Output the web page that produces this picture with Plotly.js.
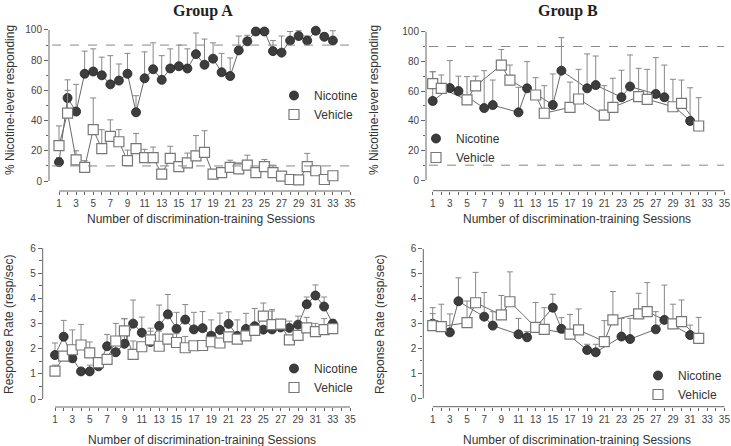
<!DOCTYPE html>
<html><head><meta charset="utf-8">
<script src="https://cdn.plot.ly/plotly-3.0.1.min.js"></script>
<style>html,body{margin:0;padding:0;background:#fff}#chart{width:731px;height:446px}</style>
</head><body><div id="chart"></div>
<script>
// ---------- DATA ----------
const sessionsA = [1,2,3,4,5,6,7,8,9,10,11,12,13,14,15,16,17,18,19,20,21,22,23,24,25,26,27,28,29,30,31,32,33];
// Group A: % nicotine-lever responding
const nicA_pct     = [12.5,55,46,71,72.5,70,64,66.5,71,45.5,68,74,67,74.5,76,74.5,84,77,81,72,69.5,86.5,92.5,99,99,86,85,93,96,93,99.5,95.5,93];
const nicA_pctErr  = [3,12,18,15,15,12,19,11,13.5,11,17.5,17.5,16,13,14,13,14,17,10.5,12.5,12,9.5,4,0,0,7,11,6,3.5,3,0,2.5,6.5];
const vehA_pct     = [23.5,45,14,9,34,21.5,29.5,26,13.5,21.5,15.5,15.5,4.6,15,9.5,12,16.6,19,4.6,5.5,9,8,10.5,5.5,9.5,5.5,3.3,1,0.7,9.5,6.8,1,3.5];
const vehA_pctErr  = [13,15,6,4.5,21,12.5,11,8,7,10,5.5,7,0,8,3.3,6.5,13.5,14.3,0,0,4.8,4,6.6,0,4.8,5,0,0,0,8.8,3.2,0,2.2];
// Group A: response rate
const nicA_rate    = [1.75,2.48,1.62,1.1,1.1,1.3,2.1,1.86,2.2,3.0,2.64,2.27,2.91,3.37,2.79,3.16,2.77,2.82,2.52,2.75,2.99,2.51,2.79,2.9,2.76,2.77,2.85,2.83,2.96,3.77,4.12,3.68,3.0];
const nicA_rateErr = [0.48,0.65,0,0,0.25,0,0.47,0.3,1.0,0.94,0.62,0.55,0.83,0.79,0.66,0.6,0.68,0.66,0.63,0.67,0.48,0.64,0.62,0.7,0,0.73,0,0.27,0.34,0.29,0.42,0.38,0.17];
const vehA_rate    = [1.11,1.71,1.96,2.15,1.84,1.45,1.58,2.31,2.71,1.78,2.08,2.35,2.1,2.38,2.25,2.04,2.12,2.13,2.28,2.23,2.47,2.38,2.51,2.73,3.3,2.96,2.98,2.35,2.53,2.83,2.68,2.76,2.8];
const vehA_rateErr = [0.24,0,0.79,0.82,0.43,0,0,0.7,0.48,0.53,0,0.35,0.6,0,0.35,0.45,0,0,0,0,0,0,0,0,0.52,0.6,0.14,0,0,0.42,0.33,0.44,0];

// Group B
const nicB_sessions = [1,3,4,7,8,11,12,15,16,19,20,23,24,27,28,31];
const vehB_sessions = [1,2,5,6,9,10,13,14,17,18,21,22,25,26,29,30,32];
const nicB_pct     = [53.3,62,60,48.5,50.5,45.6,61.8,50.6,73.7,61.8,64,55.8,63,58,55.8,39.8];
const nicB_pctErr  = [19.7,18.5,10,25.2,16.9,16.9,18,20.9,22.3,23.2,19.6,18.2,21.3,24.5,21.7,22.4];
const vehB_pct     = [65,61.8,54,63.4,77.5,67.4,57.3,45,49,54.6,43.8,49,56.2,54.4,49.4,51.7,36.4];
const vehB_pctErr  = [8,9,15.7,6.6,10.5,10.1,11.7,18.6,17,20,19.8,19.6,19.1,20.2,18.5,15.7,19.1];
const nicB_rate    = [3.0,2.65,3.9,3.28,2.92,2.57,2.45,3.64,2.79,1.94,1.85,2.48,2.38,2.77,3.15,2.54];
const nicB_rateErr = [0.4,0.74,0.94,0.97,0.56,0.64,0.23,0.54,0.45,0.23,0.32,0.73,0.83,0.71,1.4,0.4];
const vehB_rate    = [2.92,2.88,3.04,3.84,3.35,3.88,2.85,2.77,2.58,2.75,2.28,3.15,3.39,3.48,2.99,3.08,2.41];
const vehB_rateErr = [0.72,0.9,0.87,1.22,0.78,1.2,1.0,0.87,0.79,0.84,0.84,1.14,0.83,1.17,0.79,0.87,0.84];

// Tick labels
const xTickVals = [1,2,3,4,5,6,7,8,9,10,11,12,13,14,15,16,17,18,19,20,21,22,23,24,25,26,27,28,29,30,31,32,33,34,35];
const xTickText = ['1','','3','','5','','7','','9','','11','','13','','15','','17','','19','','21','','23','','25','','27','','29','','31','','33','','35'];
const pctTickVals = [0,20,40,60,80,100];
const pctMinorVals = [10,30,50,70,90];
const rateTickVals = [0,1,2,3,4,5,6];
const rateMinorVals = [0.5,1.5,2.5,3.5,4.5,5.5];
const criterionLines = [90,10];
const seriesNames = ['Nicotine','Vehicle'];
const panelTitles = ['Group A','Group B'];
const xTitle = 'Number of discrimination-training Sessions';
const yTitlePct = '% Nicotine-lever responding';
const yTitleRate = 'Response Rate (resp/sec)';

// ---------- STYLE ----------
const W = 731, H = 446;
const FONT = 'Liberation Sans, Arial, sans-serif';
const AX = '#666';
const lineStyle = {color:'#6a6a6a', width:1};
const nicMarker = {symbol:'circle', size:9, color:'#3d3d3d', line:{color:'#222', width:0.8}};
const vehMarker = {symbol:'square', size:10, color:'#fff', line:{color:'#777', width:1.2}};

function errBars(arr){
  return {type:'data', symmetric:false, array:arr, arrayminus:arr.map(()=>0),
          color:'#888', thickness:1, width:3};
}
const lineTraces = [], markerTraces = [];
function series(x, y, err, marker, name, xa, ya, leg){
  lineTraces.push({type:'scatter', mode:'lines', x:x, y:y, line:lineStyle, xaxis:xa, yaxis:ya,
    showlegend:false, hoverinfo:'skip', cliponaxis:false});
  markerTraces.push({type:'scatter', mode:'markers', x:x, y:y, error_y:errBars(err), marker:marker,
    name:name, xaxis:xa, yaxis:ya, legend:leg, cliponaxis:false});
}
series(sessionsA, nicA_pct,  nicA_pctErr,  nicMarker, seriesNames[0], 'x','y','legend');
series(sessionsA, vehA_pct,  vehA_pctErr,  vehMarker, seriesNames[1], 'x','y','legend');
series(nicB_sessions, nicB_pct, nicB_pctErr, nicMarker, seriesNames[0], 'x2','y2','legend2');
series(vehB_sessions, vehB_pct, vehB_pctErr, vehMarker, seriesNames[1], 'x2','y2','legend2');
series(sessionsA, nicA_rate, nicA_rateErr, nicMarker, seriesNames[0], 'x3','y3','legend3');
series(sessionsA, vehA_rate, vehA_rateErr, vehMarker, seriesNames[1], 'x3','y3','legend3');
series(nicB_sessions, nicB_rate, nicB_rateErr, nicMarker, seriesNames[0], 'x4','y4','legend4');
series(vehB_sessions, vehB_rate, vehB_rateErr, vehMarker, seriesNames[1], 'x4','y4','legend4');
const data = lineTraces.concat(markerTraces);

function px(x){return x/W;}
function py(y){return 1 - y/H;}

function xAxis(l, r, range, anchor){
  return {domain:[px(l), px(r)], range:range, anchor:anchor, showgrid:false, zeroline:false,
    showline:false, ticks:'outside', ticklen:3, tickwidth:1, tickcolor:AX,
    tickvals:xTickVals, ticktext:xTickText, tickfont:{family:FONT, size:10, color:'#444'}, fixedrange:true};
}
function yAxis(top, bottom, range, anchor, vals, minor){
  return {domain:[py(bottom), py(top)], range:range, anchor:anchor, showgrid:false, zeroline:false,
    showline:false, ticks:'outside', ticklen:4, tickwidth:1, tickcolor:AX,
    tickvals:vals, tickfont:{family:FONT, size:10, color:'#444'},
    minor:{tickvals:minor, ticks:'outside', ticklen:2.5, tickcolor:AX}, fixedrange:true};
}

const shapes = [];
function axisLines(xa, ya, ymax){
  const xd = xa + ' domain', yd = ya + ' domain';
  shapes.push({type:'line', xref:xd, yref:ya, x0:0, x1:0, y0:0, y1:ymax, line:{color:AX, width:1}});
  shapes.push({type:'line', xref:xa, yref:yd, x0:xTickVals[0], x1:xTickVals[xTickVals.length-1], y0:0, y1:0, line:{color:AX, width:1}});
}
axisLines('x','y',100); axisLines('x2','y2',100); axisLines('x3','y3',6); axisLines('x4','y4',6);
['y','y2'].forEach((ya,i)=>{
  criterionLines.forEach(v=>shapes.push({type:'line', xref:(i?'x2':'x')+' domain', yref:ya,
    x0:0.01, x1:0.99, y0:v, y1:v, line:{color:'#888', width:1, dash:'dash'}}));
});

const annotations = [];
function ann(text, x, y, opts){
  annotations.push(Object.assign({text:text, xref:'paper', yref:'paper', x:px(x), y:py(y),
    showarrow:false, xanchor:'center', yanchor:'middle',
    font:{family:FONT, size:12, color:'#333'}}, opts||{}));
}
const titleFont = {family:'Liberation Serif, Times New Roman, serif', size:16, color:'#222', weight:'bold'};
ann(panelTitles[0], 203, 11, {font:titleFont});
ann(panelTitles[1], 568, 11, {font:titleFont});
ann(xTitle, 201, 219); ann(xTitle, 577, 219);
ann(xTitle, 202, 440); ann(xTitle, 577, 440);
ann(yTitlePct, 10, 100, {textangle:-90}); ann(yTitlePct, 374, 100, {textangle:-90});
ann(yTitleRate, 9, 325, {textangle:-90}); ann(yTitleRate, 380, 325, {textangle:-90});

function legend(x, y){
  return {x:px(x), y:py(y), xanchor:'left', yanchor:'top', bgcolor:'rgba(0,0,0,0)',
    font:{family:FONT, size:12, color:'#333'}, tracegroupgap:0, itemclick:false};
}

const layout = {
  width:W, height:H, margin:{l:0, r:0, t:0, b:0},
  paper_bgcolor:'#fff', plot_bgcolor:'#fff', showlegend:true,
  xaxis: xAxis(49, 353, [-0.168, 35.35], 'y'),
  yaxis: yAxis(25, 191, [-6.6, 103.3], 'x', pctTickVals, pctMinorVals),
  xaxis2: xAxis(426, 727, [0.219, 35.3], 'y2'),
  yaxis2: yAxis(25, 190.7, [-7.2, 104.5], 'x2', pctTickVals, pctMinorVals),
  xaxis3: xAxis(42.7, 353, [-0.417, 35.33], 'y3'),
  yaxis3: yAxis(243, 407, [-0.318, 6.21], 'x3', rateTickVals, rateMinorVals),
  xaxis4: xAxis(423.3, 727, [-0.096, 35.3], 'y4'),
  yaxis4: yAxis(243, 406.7, [-0.338, 6.24], 'x4', rateTickVals, rateMinorVals),
  legend: legend(274, 81),
  legend2: legend(416, 124),
  legend3: legend(274, 354),
  legend4: legend(638, 361),
  shapes: shapes,
  annotations: annotations
};

Plotly.newPlot('chart', data, layout, {displayModeBar:false, staticPlot:true});
</script>
</body></html>
